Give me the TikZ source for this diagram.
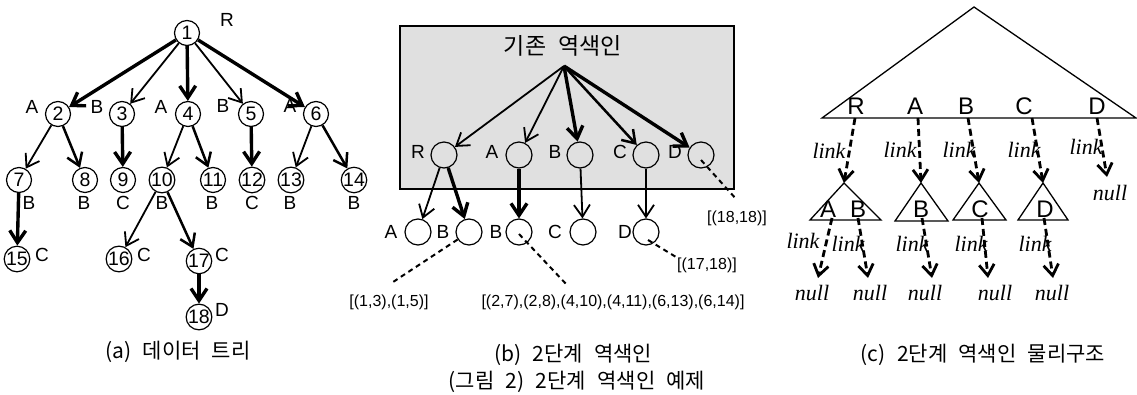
\documentclass[tikz,border=0pt]{standalone}
\usepackage{fontspec}
\usetikzlibrary{arrows.meta}
\newfontfamily\arialf{Liberation Sans}
\newfontfamily\timesf{Liberation Serif}
\newfontfamily\kor{Noto Sans CJK KR}[WordSpace=2.4]
\begin{document}
\begin{tikzpicture}[x=1pt,y=-1pt,
  every node/.style={inner sep=0pt},
  anode/.style={circle,draw,line width=1.2pt,minimum size=25pt,font=\arialf\fontsize{19.5}{19.5}\selectfont},
  bnode/.style={circle,draw,line width=1.2pt,minimum size=26pt},
  lab/.style={font=\arialf\fontsize{19}{19}\selectfont},
  clab/.style={font=\arialf\fontsize{24}{24}\selectfont},
  smalllab/.style={font=\arialf\fontsize{16}{16}\selectfont},
  itlab/.style={font=\timesf\itshape\fontsize{22}{22}\selectfont},
  caplab/.style={font=\kor\fontsize{21}{21}\selectfont},
  tipped/.style={-{Straight Barb[length=12pt,width=16pt]}},
  eone/.style={tipped,line width=1.8pt},
  etwo/.style={tipped,line width=2.5pt},
  ethree/.style={tipped,line width=3.4pt},
  dline/.style={line width=2pt,dash pattern=on 5pt off 4pt},
  darr/.style={-{Straight Barb[length=11pt,width=15pt]},line width=2.8pt,dash pattern=on 7pt off 4pt},
  tri/.style={line width=1.3pt}
]
\useasboundingbox (0,0) rectangle (1137,394);

% ---------- (a) data tree ----------
\node[anode] (n1) at (187,33) {1};
\node[anode] (n2) at (58,114) {2};
\node[anode] (n3) at (122,114) {3};
\node[anode] (n4) at (188,114) {4};
\node[anode] (n5) at (251,114) {5};
\node[anode] (n6) at (316,114) {6};
\node[anode] (n7) at (19,180) {7};
\node[anode] (n8) at (85,180) {8};
\node[anode] (n9) at (123,180) {9};
\node[anode] (n10) at (162,180) {10};
\node[anode] (n11) at (213,180) {11};
\node[anode] (n12) at (252,180) {12};
\node[anode] (n13) at (291,180) {13};
\node[anode] (n14) at (354,180) {14};
\node[anode] (n15) at (17,259) {15};
\node[anode] (n16) at (119,259) {16};
\node[anode] (n17) at (199,261) {17};
\node[anode] (n18) at (199,317) {18};

\node[lab] (lr) at (227,20) {R};
\node[lab] (l2) at (32,107) {A};
\node[lab] (l3) at (97,107) {B};
\node[lab] (l4) at (161,107) {A};
\node[lab] (l5) at (223,106) {B};
\node[lab] (l6) at (290,106) {A};
\node[lab] (l7) at (29,203) {B};
\node[lab] (l8) at (84,203) {B};
\node[lab] (l9) at (123,203) {C};
\node[lab] (l10) at (162,203) {B};
\node[lab] (l11) at (212,203) {B};
\node[lab] (l12) at (252,203) {C};
\node[lab] (l13) at (290,203) {B};
\node[lab] (l14) at (354,203) {B};
\node[lab] (l15) at (42,255) {C};
\node[lab] (l16) at (144,255) {C};
\node[lab] (l17) at (222,255) {C};
\node[lab] (l18) at (222,310) {D};

\draw[ethree] (n1) -- (n2);
\draw[ethree] (n1) -- (n4);
\draw[ethree] (n1) -- (n6);
\draw[eone] (n1) -- (n3);
\draw[eone] (n1) -- (n5);
\draw[eone] (n2) -- (n7);
\draw[etwo] (n2) -- (n8);
\draw[ethree] (n3) -- (n9);
\draw[eone] (n4) -- (n10);
\draw[etwo] (n4) -- (n11);
\draw[ethree] (n5) -- (n12);
\draw[eone] (n6) -- (n13);
\draw[etwo] (n6) -- (n14);
\draw[ethree] (n7) -- (n15);
\draw[eone] (n10) -- (n16);
\draw[etwo] (n10) -- (n17);
\draw[ethree] (n17) -- (n18);

% ---------- (b) two-level index ----------
\node[draw,fill=black!12,line width=1.3pt,minimum width=334pt,minimum height=163pt] (box) at (567,107.5) {};
\node[font=\kor\fontsize{23}{23}\selectfont] (title) at (563,46) {기존 역색인};
\coordinate (fan) at (564,66);

\node[bnode] (bR) at (444,155) {};
\node[bnode] (bA) at (519,155) {};
\node[bnode] (bB) at (580,155) {};
\node[bnode] (bC) at (646,155) {};
\node[bnode] (bD) at (701,155) {};
\node[lab] (tR) at (418,152) {R};
\node[lab] (tA) at (492,152) {A};
\node[lab] (tB) at (555,152) {B};
\node[lab] (tC) at (620,152) {C};
\node[lab] (tD) at (675,152) {D};

\node[bnode] (lA) at (418,232) {};
\node[bnode] (lB1) at (469,232) {};
\node[bnode] (lB2) at (519,232) {};
\node[bnode] (lC) at (583,232) {};
\node[bnode] (lD) at (646,232) {};
\node[lab] (uA) at (391,232) {A};
\node[lab] (uB1) at (443,232) {B};
\node[lab] (uB2) at (496,232) {B};
\node[lab] (uC) at (555,232) {C};
\node[lab] (uD) at (625,232) {D};

\draw[eone] (fan) -- (bR);
\draw[eone] (fan) -- (bA);
\draw[ethree] (fan) -- (bB);
\draw[etwo] (fan) -- (bC);
\draw[ethree] (fan) -- (bD);
\draw[eone] (bR) -- (lA);
\draw[ethree] (bR) -- (lB1);
\draw[ethree] (bA) -- (lB2);
\draw[eone] (bB) -- (lC);
\draw[eone] (bC) -- (lD);

\coordinate (c18) at (737,200);
\coordinate (c17) at (676,257);
\coordinate (c13) at (390,284);
\coordinate (c27) at (567,285);
\draw[dline] (bD.center) ++(0,5) -- (c18);
\draw[dline] (lD.center) ++(2,8) -- (c17);
\draw[dline] (lB1) -- (c13);
\draw[dline] (lB2.center) ++(0,2) -- (c27);

\node[smalllab] (p18) at (737,218) {[(18,18)]};
\node[smalllab] (p17) at (707,265) {[(17,18)]};
\node[smalllab] (p13) at (389,302) {[(1,3),(1,5)]};
\node[smalllab] (p27) at (613,302) {[(2,7),(2,8),(4,10),(4,11),(6,13),(6,14)]};

% ---------- (c) physical structure ----------
\coordinate (bigL) at (822,118);
\coordinate (bigT) at (974,7);
\coordinate (bigR) at (1136,118);
\draw[tri] (bigL) -- (bigT) -- (bigR) -- cycle;
\node[clab] (cR) at (856,106) {R};
\node[clab] (cA) at (915,106) {A};
\node[clab] (cB) at (966,106) {B};
\node[clab] (cC) at (1024,106) {C};
\node[clab] (cD) at (1097,106) {D};

\coordinate (t1) at (844,183);
\coordinate (t2) at (921,183);
\coordinate (t3) at (979,183);
\coordinate (t4) at (1043,183);
\draw[tri] (810,220) -- (t1) -- (881,220) -- cycle;
\draw[tri] (895,221) -- (t2) -- (948,221) -- cycle;
\draw[tri] (953,220) -- (t3) -- (1006,220) -- cycle;
\draw[tri] (1018,220) -- (t4) -- (1068,220) -- cycle;
\node[clab] (sA) at (828,209) {A};
\node[clab] (sB) at (858,209) {B};
\node[clab] (sB2) at (921,209) {B};
\node[clab] (sC) at (980,209) {C};
\node[clab] (sD) at (1045,209) {D};

\coordinate (uR0) at (855,118);
\coordinate (uA0) at (918,118);
\coordinate (uB0) at (968,118);
\coordinate (uC0) at (1032,118);
\coordinate (uD0) at (1097,118);
\coordinate (uD1) at (1107,177);
\draw[darr] (uR0) -- (t1);
\draw[darr] (uA0) -- (t2);
\draw[darr] (uB0) -- (t3);
\draw[darr] (uC0) -- (t4);
\draw[darr] (uD0) -- (uD1);

\coordinate (v1) at (832,218);
\coordinate (v2) at (858,218);
\coordinate (v3) at (922,218);
\coordinate (v4) at (982,218);
\coordinate (v5) at (1044,218);
\coordinate (w1) at (818,278);
\coordinate (w2) at (868,278);
\coordinate (w3) at (932,278);
\coordinate (w4) at (988,278);
\coordinate (w5) at (1053,278);
\draw[darr] (v1) -- (w1);
\draw[darr] (v2) -- (w2);
\draw[darr] (v3) -- (w3);
\draw[darr] (v4) -- (w4);
\draw[darr] (v5) -- (w5);

\node[itlab] (k1) at (829,151) {link};
\node[itlab] (k2) at (900,150) {link};
\node[itlab] (k3) at (959,150) {link};
\node[itlab] (k4) at (1024,150) {link};
\node[itlab] (k5) at (1086,147) {link};
\node[itlab] (k6) at (803,241) {link};
\node[itlab] (k7) at (848,244) {link};
\node[itlab] (k8) at (912,244) {link};
\node[itlab] (k9) at (971,244) {link};
\node[itlab] (k10) at (1035,244) {link};
\node[itlab] (z1) at (812,293) {null};
\node[itlab] (z2) at (870,293) {null};
\node[itlab] (z3) at (925,293) {null};
\node[itlab] (z4) at (995,293) {null};
\node[itlab] (z5) at (1052,293) {null};
\node[itlab] (z6) at (1110,193) {null};

% ---------- captions ----------
\node[caplab] (capa) at (178,352) {(a) 데이터 트리};
\node[caplab] (capb) at (573,355) {(b) 2단계 역색인};
\node[caplab] (capc) at (983,355) {(c) 2단계 역색인 물리구조};
\node[caplab] (capf) at (577,382) {(그림 2) 2단계 역색인 예제};
\end{tikzpicture}
\end{document}
